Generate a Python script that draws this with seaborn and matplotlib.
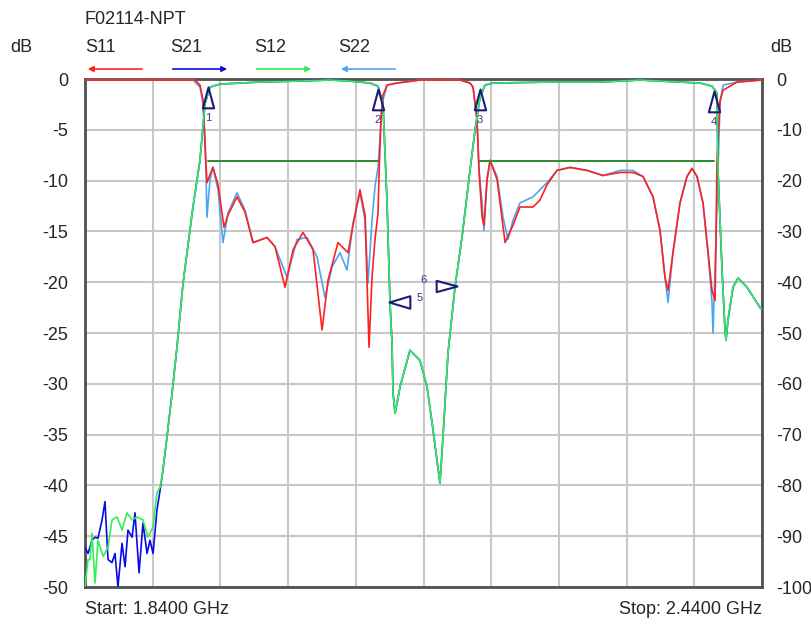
import matplotlib
matplotlib.use("Agg")
import matplotlib.pyplot as plt
from matplotlib.path import Path
import seaborn as sns
import pandas as pd

# S12 (green) - frecuencia en GHz, nivel en dB (escala izquierda)
s12_f = [1.8400, 1.8427, 1.8444, 1.8462, 1.8489, 1.8515, 1.8560, 1.8604, 1.8639, 1.8684,
         1.8728, 1.8772, 1.8817, 1.8861, 1.8914, 1.8958, 1.9003, 1.9038, 1.9065, 1.9091,
         1.9127, 1.9171, 1.9215, 1.9269, 1.9357, 1.9419, 1.9464, 1.9508, 1.9597, 1.9951,
         2.0306, 2.0571, 2.0749, 2.0926, 2.0997, 2.1041, 2.1077, 2.1103, 2.1121, 2.1130,
         2.1148, 2.1192, 2.1280, 2.1369, 2.1431, 2.1484, 2.1546, 2.1573, 2.1617, 2.1679,
         2.1741, 2.1812, 2.1857, 2.1901, 2.1945, 2.2016, 2.2521, 2.2964, 2.3319, 2.3673,
         2.3851, 2.3957, 2.4001, 2.4010, 2.4046, 2.4072, 2.4081, 2.4099, 2.4143, 2.4188,
         2.4267, 2.4383, 2.4400]
s12_db = [-50.0, -47.3, -47.3, -44.7, -49.6, -45.4, -47.0, -46.1, -43.4, -43.1,
          -44.4, -42.7, -43.4, -43.1, -43.4, -45.1, -44.1, -40.7, -40.2, -38.5,
          -35.2, -31.0, -26.4, -20.1, -12.6, -8.0, -2.4, -0.8, -0.5, -0.3,
          -0.2, -0.1, -0.2, -0.4, -0.7, -2.4, -12.2, -22.0, -26.0, -30.9,
          -32.9, -30.3, -26.7, -27.7, -30.3, -34.5, -39.8, -35.2, -27.0, -20.5,
          -15.6, -9.0, -5.0, -1.8, -0.6, -0.4, -0.3, -0.3, -0.1, -0.3,
          -0.4, -0.7, -1.4, -9.0, -18.8, -24.7, -25.7, -23.7, -20.5, -19.6,
          -20.5, -22.5, -22.7]

# S21 (blue) - solo difiere de S12 en el piso de ruido
s21_noise_f = [1.8400, 1.8427, 1.8462, 1.8489, 1.8515, 1.8551, 1.8577, 1.8604, 1.8639, 1.8666,
               1.8692, 1.8728, 1.8755, 1.8781, 1.8817, 1.8843, 1.8879, 1.8914, 1.8950, 1.8976,
               1.9003, 1.9038, 1.9065]
s21_noise_db = [-46.1, -46.7, -45.4, -45.1, -45.2, -43.4, -41.6, -47.3, -47.6, -46.7,
                -50.0, -45.7, -48.0, -44.4, -45.1, -42.7, -48.6, -43.7, -46.7, -45.4,
                -46.7, -42.4, -40.5]

# S11 (red)
s11_f = [1.8400, 1.9331, 1.9375, 1.9419, 1.9446, 1.9464, 1.9481, 1.9508, 1.9534, 1.9579,
         1.9632, 1.9667, 1.9747, 1.9818, 1.9889, 2.0013, 2.0084, 2.0173, 2.0244, 2.0332,
         2.0421, 2.0501, 2.0554, 2.0642, 2.0731, 2.0775, 2.0837, 2.0882, 2.0917, 2.0944,
         2.0970, 2.0997, 2.1006, 2.1023, 2.1041, 2.1077, 2.1165, 2.1369, 2.1724, 2.1812,
         2.1839, 2.1874, 2.1892, 2.1919, 2.1936, 2.1963, 2.1990, 2.2052, 2.2123, 2.2193,
         2.2255, 2.2371, 2.2433, 2.2495, 2.2583, 2.2699, 2.2850, 2.2991, 2.3142, 2.3257,
         2.3346, 2.3434, 2.3496, 2.3540, 2.3567, 2.3611, 2.3673, 2.3735, 2.3780, 2.3824,
         2.3877, 2.3922, 2.3957, 2.3984, 2.3993, 2.4001, 2.4028, 2.4055, 2.4179, 2.4400]
s11_db = [-0.1, -0.1, -0.1, -0.6, -2.1, -6.7, -10.2, -9.4, -8.7, -10.4,
          -14.6, -13.4, -11.6, -13.1, -16.1, -15.6, -16.5, -20.5, -16.8, -15.1,
          -16.8, -24.7, -19.8, -16.1, -17.1, -14.4, -10.9, -13.4, -26.4, -19.5,
          -15.8, -13.2, -9.4, -4.0, -1.6, -0.6, -0.4, -0.1, -0.1, -0.4,
          -0.8, -4.0, -9.0, -13.6, -14.4, -9.9, -8.0, -9.9, -16.1, -14.4,
          -12.6, -12.6, -11.9, -10.4, -9.0, -8.7, -9.0, -9.5, -9.2, -9.2,
          -9.6, -11.6, -14.9, -19.5, -20.8, -17.1, -12.2, -9.6, -8.8, -9.6,
          -12.2, -17.1, -20.8, -21.8, -14.9, -8.0, -2.1, -1.1, -0.3, -0.1]

# S22 (light blue)
s22_f = [1.8400, 1.9357, 1.9419, 1.9446, 1.9464, 1.9472, 1.9481, 1.9508, 1.9534, 1.9579,
         1.9623, 1.9667, 1.9747, 1.9818, 1.9889, 2.0013, 2.0084, 2.0190, 2.0279, 2.0368,
         2.0456, 2.0527, 2.0589, 2.0660, 2.0722, 2.0775, 2.0837, 2.0882, 2.0908, 2.0944,
         2.0970, 2.0997, 2.1015, 2.1032, 2.1077, 2.1165, 2.1369, 2.1724, 2.1812, 2.1839,
         2.1874, 2.1892, 2.1919, 2.1936, 2.1963, 2.1990, 2.2052, 2.2105, 2.2149, 2.2193,
         2.2255, 2.2371, 2.2495, 2.2583, 2.2699, 2.2850, 2.2991, 2.3142, 2.3257, 2.3346,
         2.3434, 2.3496, 2.3540, 2.3567, 2.3611, 2.3673, 2.3735, 2.3780, 2.3824, 2.3877,
         2.3922, 2.3957, 2.3966, 2.3993, 2.4010, 2.4028, 2.4055, 2.4179, 2.4400]
s22_db = [-0.1, -0.1, -0.8, -2.4, -5.7, -9.0, -13.6, -9.9, -8.7, -10.9,
          -16.1, -13.2, -11.2, -12.9, -16.1, -15.6, -16.5, -19.5, -15.8, -15.6,
          -17.5, -21.5, -18.5, -17.1, -18.8, -14.2, -11.2, -13.9, -20.1, -13.9,
          -10.6, -8.7, -5.7, -2.4, -0.6, -0.4, -0.1, -0.1, -0.4, -0.8,
          -4.0, -9.0, -12.2, -14.9, -9.9, -8.0, -9.6, -13.6, -15.8, -13.9,
          -12.2, -11.6, -10.2, -9.0, -8.7, -9.0, -9.5, -9.0, -9.0, -9.6,
          -11.6, -14.9, -19.5, -22.0, -17.1, -12.2, -9.6, -8.8, -9.6, -12.2,
          -17.1, -22.0, -25.0, -15.6, -9.0, -2.4, -0.6, -0.3, -0.1]

# marcadores
mk_up_f = [1.9490, 2.0997, 2.1901, 2.3975]
mk_up_db = [-0.8, -1.0, -1.0, -1.2]
mk_up_lbl = ["1", "2", "3", "4"]
mk5_f, mk5_db = 2.1094, -21.9
mk6_f, mk6_db = 2.1697, -20.4
mk5_lbl_f, mk5_lbl_db = 2.1369, -21.6
mk6_lbl_f, mk6_lbl_db = 2.1404, -19.8
bw_lines = [(1.9490, 2.0997), (2.1901, 2.3975)]
bw_db = -8.1

left_ticks = [0, -5, -10, -15, -20, -25, -30, -35, -40, -45, -50]
right_ticks = [0, -10, -20, -30, -40, -50, -60, -70, -80, -90, -100]

sns.set_style("white")
plt.rcParams['font.family'] = ['Liberation Sans', 'DejaVu Sans']

fig = plt.figure(figsize=(8.12, 6.24), dpi=100)
ax = fig.add_axes([85 / 812, 1 - 587 / 624, 677 / 812, 508 / 624])

s21_f = s21_noise_f + [f for f in s12_f if f > s21_noise_f[-1]]
s21_db = s21_noise_db + [d for f, d in zip(s12_f, s12_db) if f > s21_noise_f[-1]]

traces = [
    ("S22", s22_f, s22_db, "#4ea3f2"),
    ("S11", s11_f, s11_db, "#ff2020"),
    ("S21", s21_f, s21_db, "#0a0ae6"),
    ("S12", s12_f, s12_db, "#33ee55"),
]
for name, f, d, c in traces:
    df = pd.DataFrame({"f": f, "db": d})
    sns.lineplot(data=df, x="f", y="db", ax=ax, color=c, lw=1.2,
                 estimator=None, sort=False, zorder=3)

# lineas de ancho de banda
for f0, f1 in bw_lines:
    ax.plot([f0, f1], [bw_db, bw_db], color="#2e8b2e", lw=1.4, zorder=4)

# triangulos de marcador
tri_up = Path([(0, 0), (-0.27, -1), (0.27, -1), (0, 0)],
              [Path.MOVETO, Path.LINETO, Path.LINETO, Path.CLOSEPOLY])
tri_left = Path([(0, 0), (1, -0.3), (1, 0.3), (0, 0)],
                [Path.MOVETO, Path.LINETO, Path.LINETO, Path.CLOSEPOLY])
tri_right = Path([(0, 0), (-1, -0.27), (-1, 0.27), (0, 0)],
                 [Path.MOVETO, Path.LINETO, Path.LINETO, Path.CLOSEPOLY])
mcol = "#1c1c78"
ax.plot(mk_up_f, mk_up_db, ls="none", marker=tri_up, ms=30, mfc="none",
        mec=mcol, mew=1.5, zorder=5)
for f, d, t in zip(mk_up_f, mk_up_db, mk_up_lbl):
    ax.text(f, d - 3.0, t, ha="center", va="center", fontsize=8,
            color="#4a2f80", zorder=5)
ax.plot([mk5_f], [mk5_db], ls="none", marker=tri_left, ms=30, mfc="none",
        mec=mcol, mew=1.5, zorder=5)
ax.plot([mk6_f], [mk6_db], ls="none", marker=tri_right, ms=30, mfc="none",
        mec=mcol, mew=1.5, zorder=5)
ax.text(mk5_lbl_f, mk5_lbl_db, "5", ha="center", va="center", fontsize=8, color="#4a2f80")
ax.text(mk6_lbl_f, mk6_lbl_db, "6", ha="center", va="center", fontsize=8, color="#4a2f80")

ax.set_xlim(1.84, 2.44)
ax.set_ylim(-50, 0)
ax.set_xticks([1.84 + 0.06 * i for i in range(11)])
ax.set_xticklabels([])
ax.set_yticks(left_ticks)
ax.set_yticklabels([str(t) for t in left_ticks], fontsize=13)
ax.tick_params(length=0, pad=12)
ax.grid(True, color="#c8c8c8", lw=1.5, zorder=0)
ax.set_axisbelow(True)
ax.set_xlabel("")
ax.set_ylabel("")
for sp in ax.spines.values():
    sp.set_color("#505050")
    sp.set_linewidth(2)

ax2 = ax.twinx()
ax2.set_ylim(-100, 0)
ax2.set_yticks(right_ticks)
ax2.set_yticklabels([str(t) for t in right_ticks], fontsize=13)
ax2.tick_params(length=0, pad=10)
for sp in ax2.spines.values():
    sp.set_visible(False)

# textos
fig.text(85 / 812, 1 - 20 / 624, "F02114-NPT", fontsize=13, va="center", ha="left")
fig.text(10 / 812, 1 - 47 / 624, "dB", fontsize=13, va="center", ha="left")
fig.text(770 / 812, 1 - 47 / 624, "dB", fontsize=13, va="center", ha="left")
fig.text(85 / 812, 1 - 610 / 624, "Start: 1.8400 GHz", fontsize=13, va="center", ha="left")
fig.text(762 / 812, 1 - 610 / 624, "Stop: 2.4400 GHz", fontsize=13, va="center", ha="right")

leg = [("S11", 85, "#ff2020", "left"), ("S21", 170, "#0a0ae6", "right"),
       ("S12", 254, "#33ee55", "right"), ("S22", 338, "#4ea3f2", "left")]
for name, x0, c, direction in leg:
    fig.text(x0 / 812, 1 - 48 / 624, name, fontsize=13, va="center", ha="left")
    y = 1 - 69 / 624
    x1 = (x0 + 60) / 812
    xa = x0 / 812
    if direction == "left":
        start, end = (x1, y), (xa, y)
    else:
        start, end = (xa, y), (x1, y)
    fig.add_artist(matplotlib.patches.FancyArrowPatch(
        start, end, transform=fig.transFigure, arrowstyle="-|>",
        mutation_scale=8, color=c, lw=1.2))

fig.savefig("out.png", dpi=100)
